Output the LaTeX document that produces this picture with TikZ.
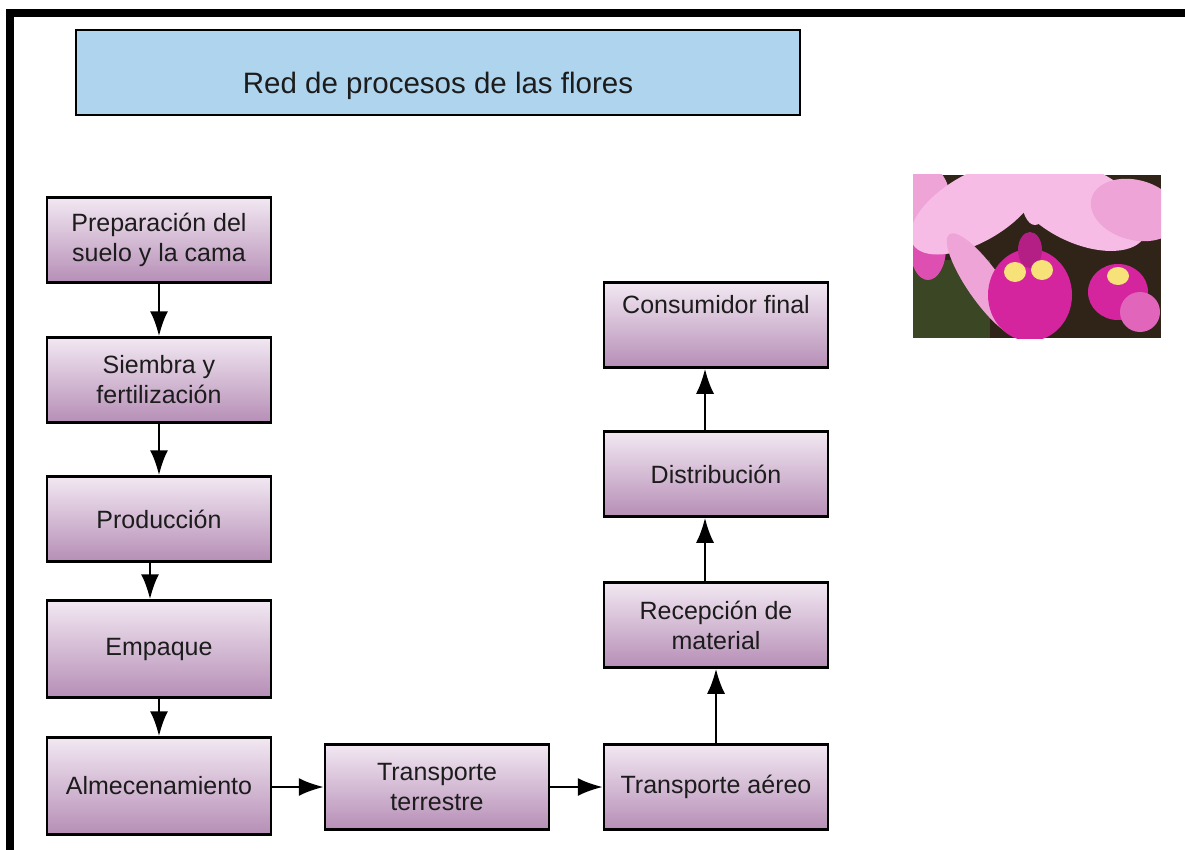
\documentclass[tikz,border=0pt]{standalone}
\usepackage{fontspec}
\setmainfont{Liberation Sans}
\usetikzlibrary{positioning}
\usetikzlibrary{arrows.meta}

\definecolor{tituloazul}{RGB}{174,212,238}
\definecolor{lilaclaro}{RGB}{242,232,242}
\definecolor{lilaoscuro}{RGB}{182,142,182}
\definecolor{textogris}{RGB}{28,28,28}
\definecolor{fondofoto}{RGB}{48,36,24}
\definecolor{hojafoto}{RGB}{58,70,36}
\definecolor{petalo}{RGB}{238,164,214}
\definecolor{petaloclaro}{RGB}{246,188,230}
\definecolor{labio}{RGB}{212,36,158}
\definecolor{garganta}{RGB}{246,226,120}

\tikzset{
  proceso/.style={draw=black, line width=2.5pt, top color=lilaclaro, bottom color=lilaoscuro,
    minimum width=224pt, minimum height=85pt, align=center, text=textogris,
    font=\fontsize{25}{30}\selectfont},
  titulo/.style={draw=black, line width=2pt, fill=tituloazul, minimum width=724pt,
    minimum height=85pt, text=textogris, font=\fontsize{29.5}{34}\selectfont},
  flecha/.style={line width=2.5pt, -{Latex[length=25pt,width=18pt]}}
}

\begin{document}
\begin{tikzpicture}[x=1pt,y=-1pt]
    \useasboundingbox (0,0) rectangle (1185,850);
    \fill[white] (0,0) rectangle (1185,850);

    % marco
    \draw[line width=8pt] (10,850) -- (10,13) -- (1185,13);

    \node[titulo, text height=48pt, text depth=7pt] (titulo) at (438,73) {Red de procesos de las flores};

    % columna izquierda
    \node[proceso] (suelo) at (159,240) {Preparación del\\suelo y la cama};
    \node[proceso] (siembra) at (159,380) {Siembra y\\fertilización};
    \node[proceso] (produccion) at (159,519) {Producción};
    \node[proceso, minimum height=97pt] (empaque) at (159,649) {Empaque};
    \node[proceso, minimum height=97pt] (almacen) at (159,786) {Almecenamiento};

    % fila de abajo
    \node[proceso] (terrestre) at (437,787) {Transporte\\terrestre};
    \node[proceso] (aereo) at (716,787) {Transporte aéreo};

    % columna derecha
    \node[proceso] (recepcion) at (716,625) {Recepción de\\material};
    \node[proceso] (distribucion) at (716,474) {Distribución};
    \node[proceso, text depth=42pt] (consumidor) at (716,325) {Consumidor final};

    \draw[flecha] (suelo) -- (siembra);
    \draw[flecha] (siembra) -- (produccion);
    \draw[flecha] ([xshift=-9pt]produccion.south) -- ([xshift=-9pt]empaque.north);
    \draw[flecha] (empaque) -- (almacen);
    \draw[flecha] (almacen.east |- terrestre) -- (terrestre);
    \draw[flecha] (terrestre) -- (aereo);
    \draw[flecha] (aereo) -- (recepcion);
    \draw[flecha] ([xshift=-11pt]recepcion.north) -- ([xshift=-11pt]distribucion.south);
    \draw[flecha] ([xshift=-11pt]distribucion.north) -- ([xshift=-11pt]consumidor.south);

    % foto de la orquidea
    \begin{scope}
    \clip (913,175) rectangle (1161,338);
    \fill[fondofoto] (913,175) rectangle (1161,338);
    \fill[hojafoto] (913,260) rectangle (990,338);
    % flor izquierda
    \fill[petalo] (925,200) ellipse (25pt and 35pt);
    \fill[labio!80] (928,248) ellipse (18pt and 32pt);
    \fill[garganta] (932,234) ellipse (8pt and 9pt);
    % petalos grandes
    \fill[petaloclaro, rotate around={30:(975,208)}] (975,208) ellipse (72pt and 34pt);
    \fill[petaloclaro, rotate around={-25:(1080,205)}] (1080,205) ellipse (72pt and 38pt);
    \fill[petalo, rotate around={-15:(1135,210)}] (1135,210) ellipse (45pt and 30pt);
    \fill[petalo, rotate around={-55:(985,285)}] (985,285) ellipse (62pt and 17pt);
    \fill[petaloclaro] (1035,195) ellipse (14pt and 30pt);
    % flor derecha
    \fill[labio] (1118,292) ellipse (30pt and 28pt);
    \fill[labio!70] (1140,312) ellipse (20pt and 20pt);
    \fill[garganta] (1118,276) ellipse (11pt and 9pt);
    % labio central
    \fill[labio] (1030,295) ellipse (42pt and 46pt);
    \fill[labio!85!black] (1030,250) ellipse (12pt and 18pt);
    \fill[garganta] (1015,272) ellipse (11pt and 10pt);
    \fill[garganta] (1042,270) ellipse (11pt and 10pt);
    \end{scope}

  \end{tikzpicture}
\end{document}
